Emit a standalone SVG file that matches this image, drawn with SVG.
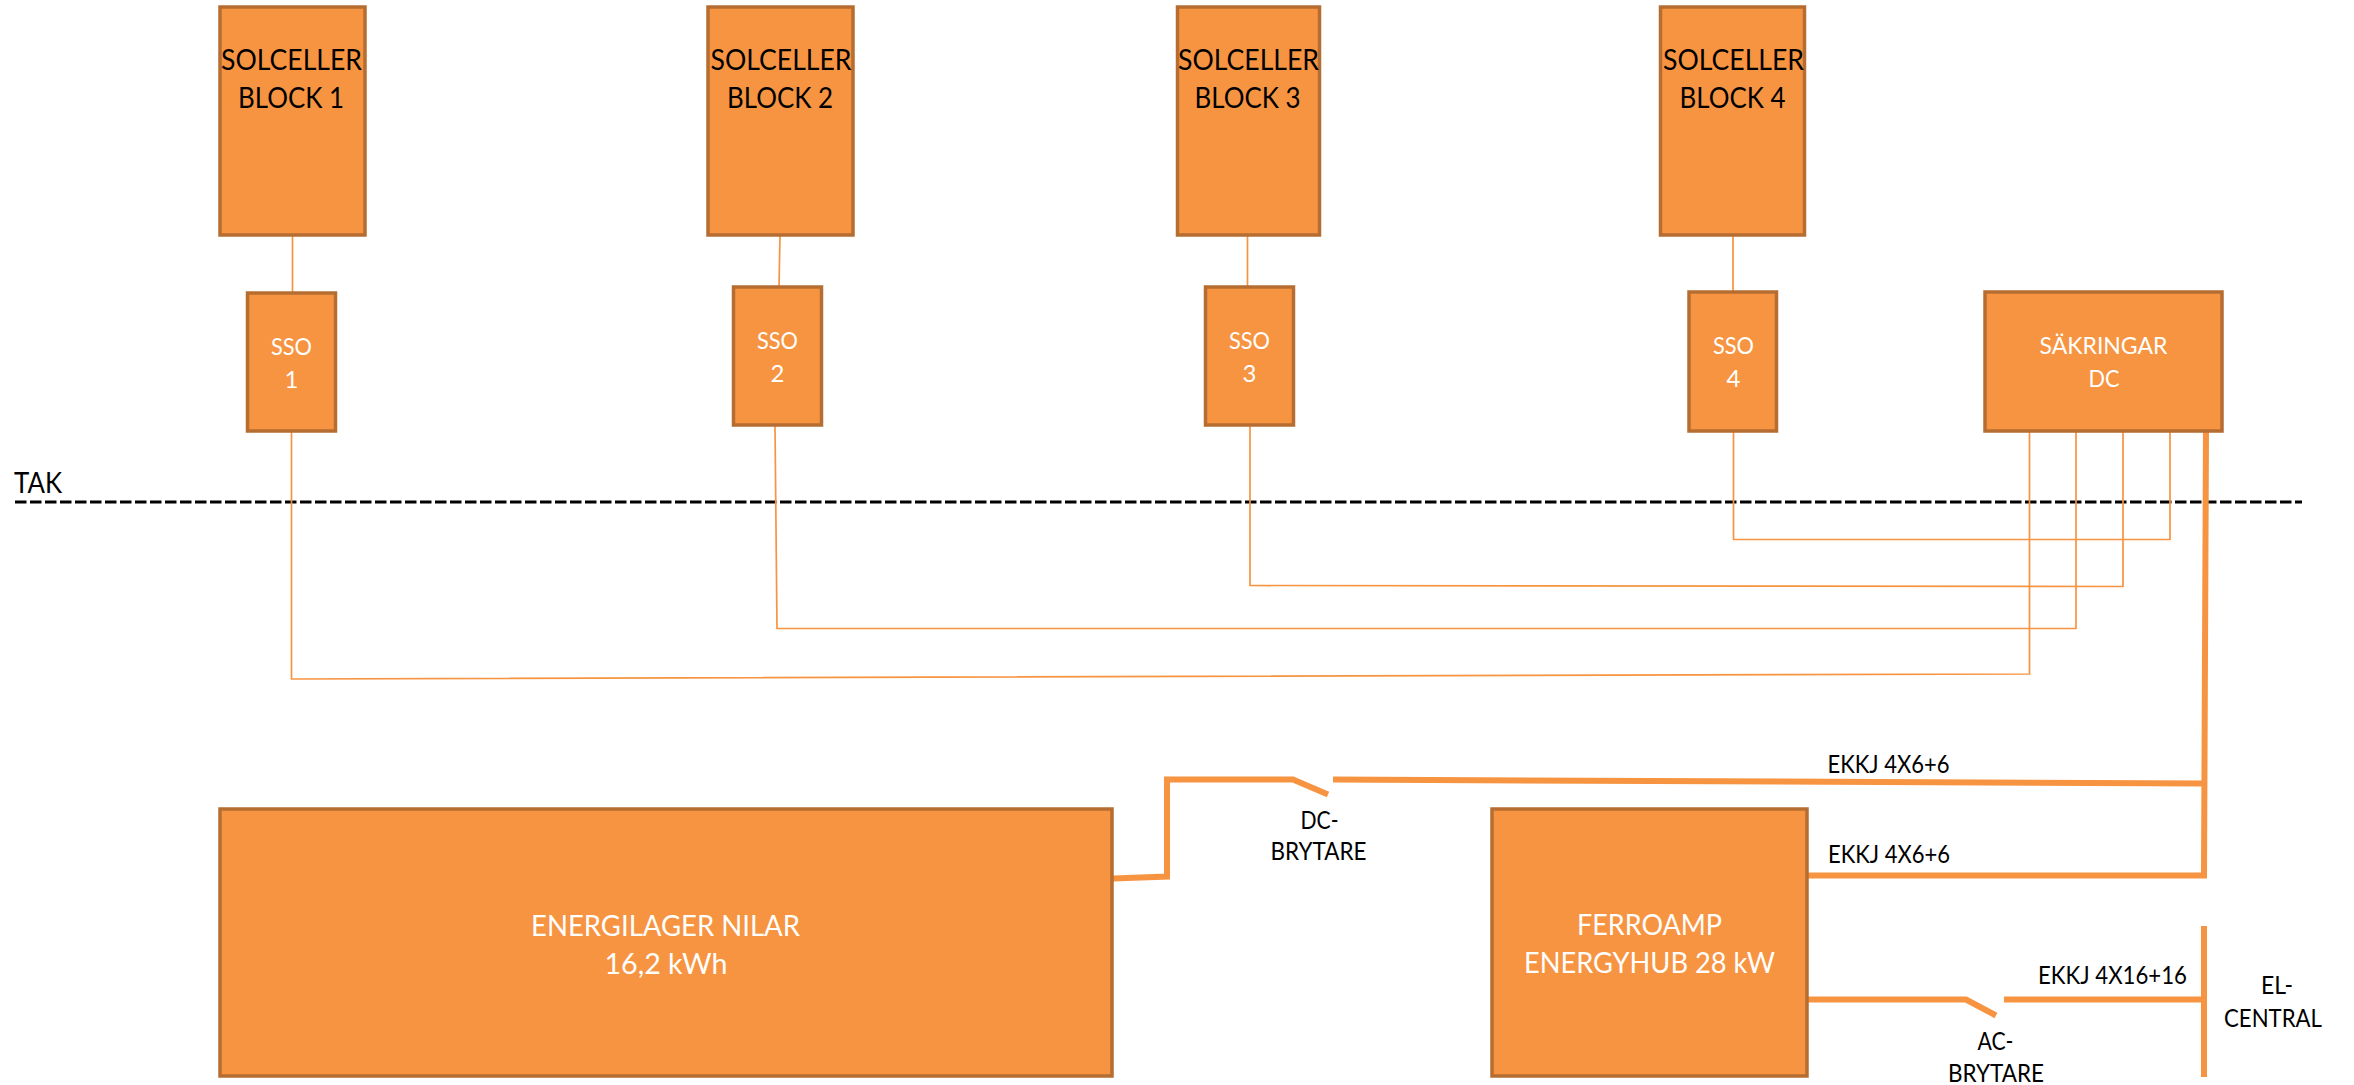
<svg xmlns="http://www.w3.org/2000/svg" width="2354" height="1085" viewBox="0 0 2354 1085">
<style>
.b{fill:#F79441;stroke:#B66D31;stroke-width:3.5}
text{font-family:Lato,"Liberation Sans",sans-serif;text-anchor:middle}
.k{fill:#000}.w{fill:#fff}
.s{font-size:29.500px}.m{font-size:24px}.l{font-size:29px}.c{font-size:24.500px}
.th{fill:none;stroke:#F79441;stroke-width:1.7}
.tk{fill:none;stroke:#F79441;stroke-width:6}
</style>
<rect width="2354" height="1085" fill="#fff"/>
<g id="tak-line">
<path d="M15 502H2302" fill="none" stroke="#000" stroke-width="3.2" stroke-dasharray="11.5 3.5"/>
<text x="38" y="493" class="k" font-size="29" textLength="48" lengthAdjust="spacingAndGlyphs">TAK</text>
</g>
<g id="connectors">
<path class="th" d="M292.500 236V293M780 236L779 287M1247.500 236V287M1733 236V292"/>
<path class="th" d="M291.500 431V679L2029.500 674V431"/>
<path class="th" d="M775 425L777 628.500H2076V431"/>
<path class="th" d="M1250 425V585.500L2123 586.500V431"/>
<path class="th" d="M1733.500 431V539.500H2170V431"/>
<path class="tk" d="M2206 431L2204 875.500H1808"/>
<path class="tk" d="M2204 783.500L1333 779.500"/>
<path class="tk" d="M1113 878.500L1167 876.500V779.500H1293L1328 794.500"/>
<path class="tk" d="M1808 999.500H1966L1996 1015.500"/>
<path class="tk" d="M2004 999.500H2204"/>
<path class="tk" d="M2204 926V1077"/>
</g>
<g id="block1"><rect class="b" x="220" y="7" width="145" height="228"/><text x="291.500" y="70" class="k s" textLength="141" lengthAdjust="spacingAndGlyphs">SOLCELLER</text><text x="291" y="108" class="k s" textLength="106" lengthAdjust="spacingAndGlyphs">BLOCK 1</text></g>
<g id="block2"><rect class="b" x="708" y="7" width="145" height="228"/><text x="781" y="70" class="k s" textLength="141" lengthAdjust="spacingAndGlyphs">SOLCELLER</text><text x="780" y="108" class="k s" textLength="106" lengthAdjust="spacingAndGlyphs">BLOCK 2</text></g>
<g id="block3"><rect class="b" x="1177.500" y="7" width="142" height="228"/><text x="1248.500" y="70" class="k s" textLength="141" lengthAdjust="spacingAndGlyphs">SOLCELLER</text><text x="1247.500" y="108" class="k s" textLength="106" lengthAdjust="spacingAndGlyphs">BLOCK 3</text></g>
<g id="block4"><rect class="b" x="1660.500" y="7" width="144" height="228"/><text x="1733.500" y="70" class="k s" textLength="141" lengthAdjust="spacingAndGlyphs">SOLCELLER</text><text x="1732.500" y="108" class="k s" textLength="106" lengthAdjust="spacingAndGlyphs">BLOCK 4</text></g>
<g id="sso1"><rect class="b" x="247.500" y="293" width="88" height="138"/><text x="291.500" y="355" class="w m" textLength="41" lengthAdjust="spacingAndGlyphs">SSO</text><text x="291.500" y="388" class="w m">1</text></g>
<g id="sso2"><rect class="b" x="733.500" y="287" width="88" height="138"/><text x="777.500" y="349" class="w m" textLength="41" lengthAdjust="spacingAndGlyphs">SSO</text><text x="777.500" y="382" class="w m">2</text></g>
<g id="sso3"><rect class="b" x="1205.500" y="287" width="88" height="138"/><text x="1249.500" y="349" class="w m" textLength="41" lengthAdjust="spacingAndGlyphs">SSO</text><text x="1249.500" y="382" class="w m">3</text></g>
<g id="sso4"><rect class="b" x="1689" y="292" width="87.500" height="139"/><text x="1733.500" y="354" class="w m" textLength="41" lengthAdjust="spacingAndGlyphs">SSO</text><text x="1733.500" y="387" class="w m">4</text></g>
<g id="sakringar"><rect class="b" x="1985" y="292" width="237" height="139"/><text x="2103.500" y="354" class="w m" textLength="128" lengthAdjust="spacingAndGlyphs">SÄKRINGAR</text><text x="2104" y="387" class="w m" textLength="31" lengthAdjust="spacingAndGlyphs">DC</text></g>
<g id="nilar"><rect class="b" x="220" y="809" width="892" height="267"/><text x="665.500" y="936" class="w l" textLength="269" lengthAdjust="spacingAndGlyphs">ENERGILAGER NILAR</text><text x="666" y="974" class="w l" textLength="123" lengthAdjust="spacingAndGlyphs">16,2 kWh</text></g>
<g id="ferroamp"><rect class="b" x="1492" y="809" width="315" height="267"/><text x="1649.500" y="935" class="w l" textLength="145" lengthAdjust="spacingAndGlyphs">FERROAMP</text><text x="1649.500" y="973" class="w l" textLength="251" lengthAdjust="spacingAndGlyphs">ENERGYHUB 28 kW</text></g>
<g id="labels">
<text x="1888.500" y="773" class="k c" textLength="122" lengthAdjust="spacingAndGlyphs">EKKJ 4X6+6</text>
<text x="1889" y="863" class="k c" textLength="122" lengthAdjust="spacingAndGlyphs">EKKJ 4X6+6</text>
<text x="2112.500" y="984" class="k c" textLength="149" lengthAdjust="spacingAndGlyphs">EKKJ 4X16+16</text>
<text x="1319.500" y="829" class="k c" textLength="38" lengthAdjust="spacingAndGlyphs">DC-</text>
<text x="1318.500" y="860" class="k c" textLength="96" lengthAdjust="spacingAndGlyphs">BRYTARE</text>
<text x="1995.500" y="1050" class="k c" textLength="36" lengthAdjust="spacingAndGlyphs">AC-</text>
<text x="1996" y="1082" class="k c" textLength="96" lengthAdjust="spacingAndGlyphs">BRYTARE</text>
<text x="2277" y="994" class="k c" textLength="32" lengthAdjust="spacingAndGlyphs">EL-</text>
<text x="2273" y="1027" class="k c" textLength="98" lengthAdjust="spacingAndGlyphs">CENTRAL</text>
</g>
</svg>
